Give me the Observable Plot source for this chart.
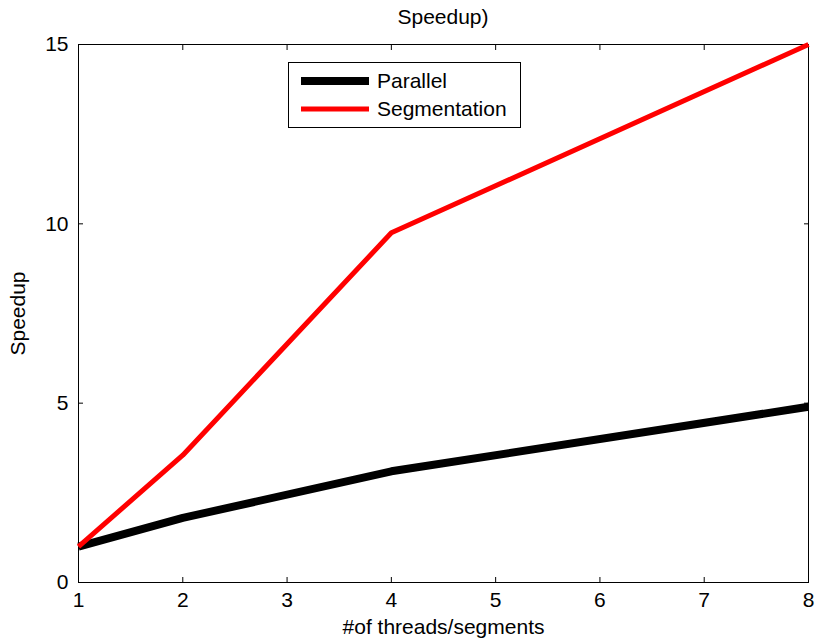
<!DOCTYPE html>
<html>
<head>
<meta charset="utf-8">
<script src="https://cdn.jsdelivr.net/npm/d3@7"></script>
<script src="https://cdn.jsdelivr.net/npm/@observablehq/plot@0.6"></script>
<style>
  html, body { margin: 0; padding: 0; background: #fff; }
  #wrap { position: relative; width: 816px; height: 642px; font-family: "Liberation Sans", Arial, sans-serif; }
  #title { position: absolute; left: 78px; width: 730px; top: 5px; text-align: center; font-size: 21px; color: #000; }
  #legend { position: absolute; left: 288px; top: 62px; width: 231px; height: 64px; border: 1px solid #000; background: #fff; font-size: 21px; }
  #legend .row { position: absolute; left: 12px; height: 24px; display: flex; align-items: center; }
  #legend svg { display: block; margin-right: 8px; }
  #chart { position: absolute; left: 0; top: 0; }
</style>
</head>
<body>
<div id="wrap">
  <div id="chart"></div>
  <div id="title"></div>
  <div id="legend"></div>
</div>
<script>
const threads = [1, 2, 4, 8];
const parallel = [1.0, 1.8, 3.1, 4.9];
const segmentation = [1.0, 3.55, 9.75, 15.0];
const seriesNames = ["Parallel", "Segmentation"];
const seriesColors = ["#000000", "#ff0000"];
const seriesWidths = [8, 5];
const xTicks = [1, 2, 3, 4, 5, 6, 7, 8];
const yTicks = [0, 5, 10, 15];
const titleText = "Speedup)";
const xLabel = "#of threads/segments";
const yLabel = "Speedup";

const rows = [];
threads.forEach((t, i) => rows.push({x: t, y: parallel[i], s: seriesNames[0]}));
threads.forEach((t, i) => rows.push({x: t, y: segmentation[i], s: seriesNames[1]}));

const font = "Liberation Sans, Arial, sans-serif";
const chart = Plot.plot({
  width: 816,
  height: 642,
  marginLeft: 78,
  marginRight: 8,
  marginTop: 44,
  marginBottom: 60,
  style: {fontFamily: font, fontSize: "21px", color: "#000", background: "#fff", overflow: "visible"},
  x: {domain: [1, 8]},
  y: {domain: [0, 15]},
  marks: [
    Plot.axisX({ticks: xTicks, tickFormat: d3.format("d"), anchor: "bottom", tickSize: -5, tickPadding: 15, label: xLabel, labelAnchor: "center", labelOffset: 51, labelArrow: "none", fontSize: 21}),
    Plot.axisX({ticks: xTicks, anchor: "top", tickSize: -5, tickFormat: () => "", label: null}),
    Plot.axisY({ticks: yTicks, tickFormat: d3.format("d"), anchor: "left", tickSize: -5, tickPadding: 15, label: yLabel, labelAnchor: "center", labelOffset: 68, labelArrow: "none", fontSize: 21}),
    Plot.axisY({ticks: yTicks, anchor: "right", tickSize: -5, tickFormat: () => "", label: null}),
    Plot.frame({stroke: "#000", strokeWidth: 1}),
    Plot.line(rows.filter(d => d.s === seriesNames[0]), {x: "x", y: "y", stroke: seriesColors[0], strokeWidth: seriesWidths[0], strokeLinejoin: "miter", strokeLinecap: "butt"}),
    Plot.line(rows.filter(d => d.s === seriesNames[1]), {x: "x", y: "y", stroke: seriesColors[1], strokeWidth: seriesWidths[1], strokeLinejoin: "miter", strokeLinecap: "butt"})
  ]
});
document.getElementById("chart").appendChild(chart);
document.getElementById("title").textContent = titleText;

const legend = document.getElementById("legend");
seriesNames.forEach((name, i) => {
  const row = document.createElement("div");
  row.className = "row";
  row.style.top = (6 + i * 28) + "px";
  row.innerHTML = `<svg width="68" height="10"><line x1="0" x2="68" y1="5" y2="5" stroke="${seriesColors[i]}" stroke-width="${seriesWidths[i]}"/></svg><span>${name}</span>`;
  legend.appendChild(row);
});
</script>
</body>
</html>
